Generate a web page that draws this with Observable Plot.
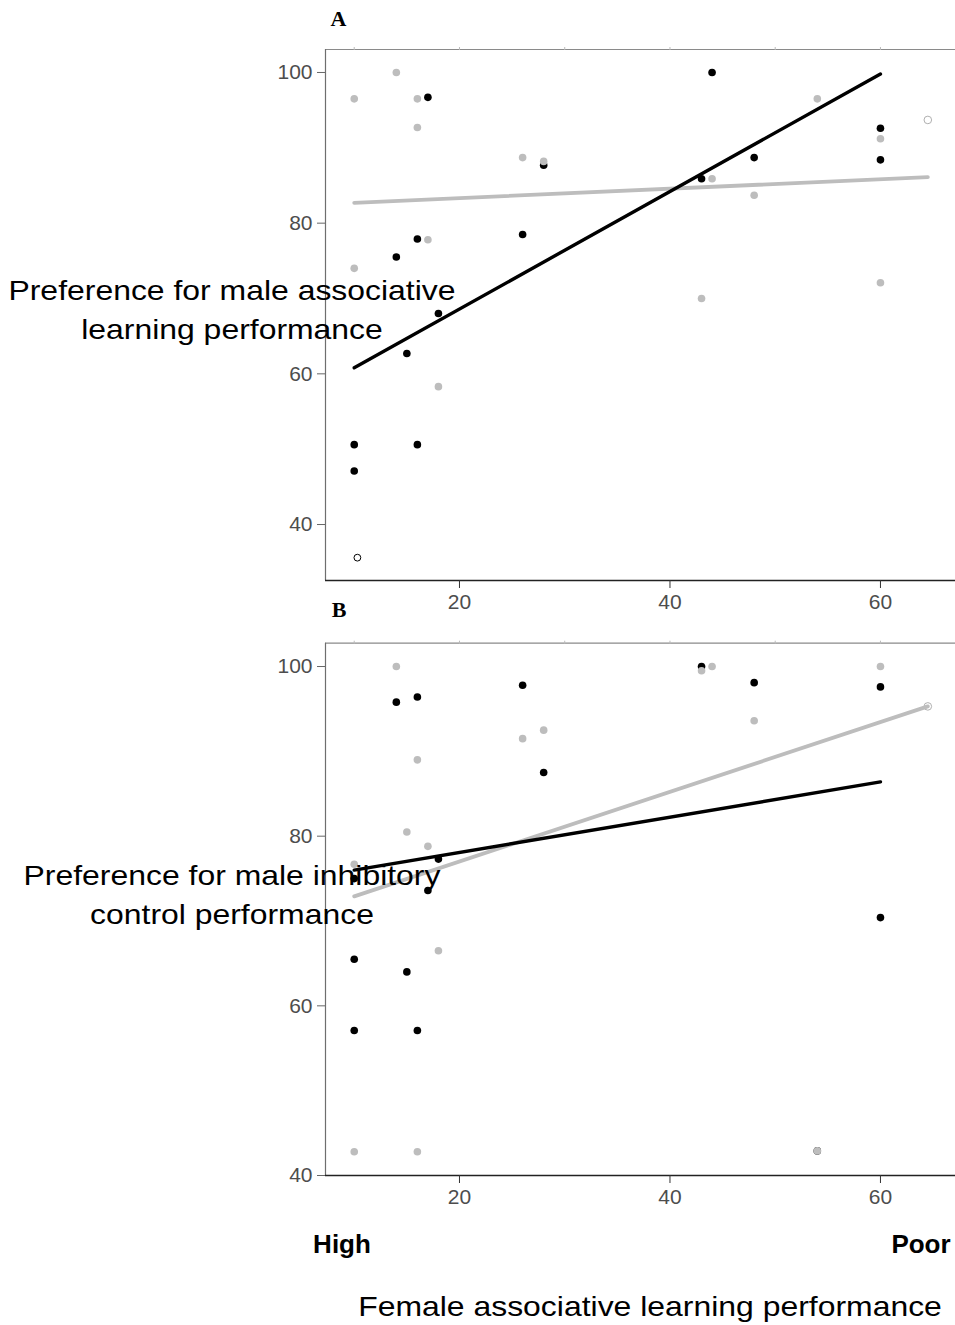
<!DOCTYPE html>
<html>
<head>
<meta charset="utf-8">
<script src="https://cdn.jsdelivr.net/npm/d3@7"></script>
<script src="https://cdn.jsdelivr.net/npm/@observablehq/plot@0.6"></script>
<style>
  body { margin: 0; background: #fff; }
  #fig { position: relative; width: 955px; height: 1325px; font-family: "Liberation Sans", Arial, sans-serif; overflow: hidden; }
  .panel { position: absolute; left: 0; }
  .lbl { position: absolute; color: #000; white-space: nowrap; text-align: center; }
  .ylab { font-size: 28px; line-height: 39px; transform: scaleX(1.14); transform-origin: center; }
  .tag { font-family: "Liberation Serif", "DejaVu Serif", serif; font-weight: bold; font-size: 22px; }
  .end { font-weight: bold; font-size: 26px; }
</style>
</head>
<body>
<div id="fig"></div>
<script>
// Shared x axis: female associative learning score
const xDomain = [7.27, 67.13];
const xTicks = [20, 40, 60];
const xMinorTicks = [10, 20, 30, 40, 50, 60];

// Panel A: preference for male associative learning performance
const aBlackX = [10, 10, 14, 15, 16, 16, 17, 18, 26, 28, 43, 44, 48, 60, 60];
const aBlackY = [50.6, 47.1, 75.5, 62.7, 77.9, 50.6, 96.7, 68.0, 78.5, 87.7, 85.9, 100, 88.7, 92.6, 88.4];
const aGrayX = [10, 10, 14, 16, 16, 17, 18, 26, 28, 43, 44, 48, 54, 60, 60];
const aGrayY = [96.5, 74.0, 100, 96.5, 92.7, 77.8, 58.3, 88.7, 88.2, 70.0, 85.9, 83.7, 96.5, 91.2, 72.1];
const aOpenBlackX = [10.3];
const aOpenBlackY = [35.6];
const aOpenGrayX = [64.5];
const aOpenGrayY = [93.7];
const aFitBlackX = [10, 60];
const aFitBlackY = [60.8, 99.8];
const aFitGrayX = [10, 64.5];
const aFitGrayY = [82.7, 86.1];
const aYDomain = [32.57, 103.05];
const aYTicks = [40, 60, 80, 100];

// Panel B: preference for male inhibitory control performance
const bBlackX = [10, 10, 10, 14, 15, 16, 16, 17, 18, 26, 28, 43, 48, 54, 60, 60];
const bBlackY = [65.5, 57.1, 75.0, 95.8, 64.0, 96.4, 57.1, 73.6, 77.3, 97.8, 87.5, 100, 98.1, 42.9, 97.6, 70.4];
const bGrayX = [10, 10, 14, 15, 16, 16, 17, 18, 26, 28, 43, 44, 48, 54, 60];
const bGrayY = [76.7, 42.8, 100, 80.5, 89.0, 42.8, 78.8, 66.5, 91.5, 92.5, 99.5, 100, 93.6, 42.9, 100];
const bOpenBlackX = [];
const bOpenBlackY = [];
const bOpenGrayX = [64.5];
const bOpenGrayY = [95.3];
const bFitBlackX = [10, 60];
const bFitBlackY = [76.0, 86.4];
const bFitGrayX = [10, 64.5];
const bFitGrayY = [72.9, 95.3];
const bYDomain = [40, 102.75];
const bYTicks = [40, 60, 80, 100];

const BLACK = "#000000";
const GREY = "#bdbdbd";

const zip = (xs, ys) => xs.map((x, i) => ({x, y: ys[i]}));

function panel(o) {
  return Plot.plot({
    width: 955,
    height: o.height,
    marginLeft: 325,
    marginRight: 0,
    marginTop: o.marginTop,
    marginBottom: o.marginBottom,
    style: {background: "#fff", fontFamily: "'Liberation Sans', Arial, sans-serif", fontSize: "21px", overflow: "visible"},
    x: {domain: xDomain},
    y: {domain: o.yDomain},
    marks: [
      // frame: top border (grey, small ticks), left axis (grey), bottom axis (dark)
      Plot.ruleY([o.yDomain[1]], {stroke: "#8a8a8a", strokeWidth: 1.2}),
      Plot.axisX({anchor: "top", ticks: xMinorTicks, tickSize: 3, tickFormat: () => "", stroke: "#bbbbbb", label: null}),
      Plot.ruleX([xDomain[0]], {stroke: "#6e6e6e", strokeWidth: 1.2}),
      Plot.ruleY([o.yDomain[0]], {stroke: "#222", strokeWidth: 1.3}),
      Plot.axisY({ticks: o.yTicks, tickSize: 8, tickPadding: 5, stroke: "#666", fill: "#4d4d4d", label: null, fontSize: 21}),
      Plot.axisX({anchor: "bottom", ticks: xTicks, tickSize: 8, tickPadding: 6, stroke: "#333", fill: "#4d4d4d", label: null, fontSize: 21}),
      // observations
      Plot.dot(zip(o.blackX, o.blackY), {x: "x", y: "y", r: 3.8, fill: BLACK, stroke: "none"}),
      Plot.dot(zip(o.grayX, o.grayY), {x: "x", y: "y", r: 3.8, fill: GREY, stroke: "none"}),
      Plot.dot(zip(o.openBlackX, o.openBlackY), {x: "x", y: "y", r: 3.4, fill: "#fff", stroke: BLACK, strokeWidth: 1}),
      Plot.dot(zip(o.openGrayX, o.openGrayY), {x: "x", y: "y", r: 3.8, fill: "#fff", stroke: "#b0b0b0", strokeWidth: 1}),
      // fitted trends
      Plot.line(zip(o.fitGrayX, o.fitGrayY), {x: "x", y: "y", stroke: GREY, strokeWidth: 3.8}),
      Plot.line(zip(o.fitBlackX, o.fitBlackY), {x: "x", y: "y", stroke: BLACK, strokeWidth: 3.4})
    ]
  });
}

const fig = document.getElementById("fig");

const pa = panel({
  height: 620, marginTop: 49, marginBottom: 40,
  yDomain: aYDomain, yTicks: aYTicks,
  blackX: aBlackX, blackY: aBlackY, grayX: aGrayX, grayY: aGrayY,
  openBlackX: aOpenBlackX, openBlackY: aOpenBlackY, openGrayX: aOpenGrayX, openGrayY: aOpenGrayY,
  fitBlackX: aFitBlackX, fitBlackY: aFitBlackY, fitGrayX: aFitGrayX, fitGrayY: aFitGrayY
});
pa.classList.add("panel");
pa.style.top = "0px";
fig.appendChild(pa);

const pb = panel({
  height: 600, marginTop: 22.7, marginBottom: 45,
  yDomain: bYDomain, yTicks: bYTicks,
  blackX: bBlackX, blackY: bBlackY, grayX: bGrayX, grayY: bGrayY,
  openBlackX: bOpenBlackX, openBlackY: bOpenBlackY, openGrayX: bOpenGrayX, openGrayY: bOpenGrayY,
  fitBlackX: bFitBlackX, fitBlackY: bFitBlackY, fitGrayX: bFitGrayX, fitGrayY: bFitGrayY
});
pb.classList.add("panel");
pb.style.top = "620px";
fig.appendChild(pb);

// text labels
function label(html, cls, cx, cy, w, h) {
  const d = document.createElement("div");
  d.className = "lbl " + cls;
  d.innerHTML = html;
  d.style.left = (cx - w / 2) + "px";
  d.style.top = (cy - h / 2) + "px";
  d.style.width = w + "px";
  d.style.height = h + "px";
  d.style.lineHeight = cls.includes("ylab") ? "39px" : h + "px";
  fig.appendChild(d);
}

label("A", "tag", 338.5, 19, 40, 24);
label("B", "tag", 339, 610, 40, 24);
label("Preference for male associative<br>learning performance", "ylab", 232, 309.5, 420, 78);
label("Preference for male inhibitory<br>control performance", "ylab", 232, 894.5, 420, 78);
label("High", "end", 342, 1244, 80, 32);
label("Poor", "end", 921, 1244, 80, 32);
label("Female associative learning performance", "ylab", 650, 1306, 520, 39);
</script>
</body>
</html>
